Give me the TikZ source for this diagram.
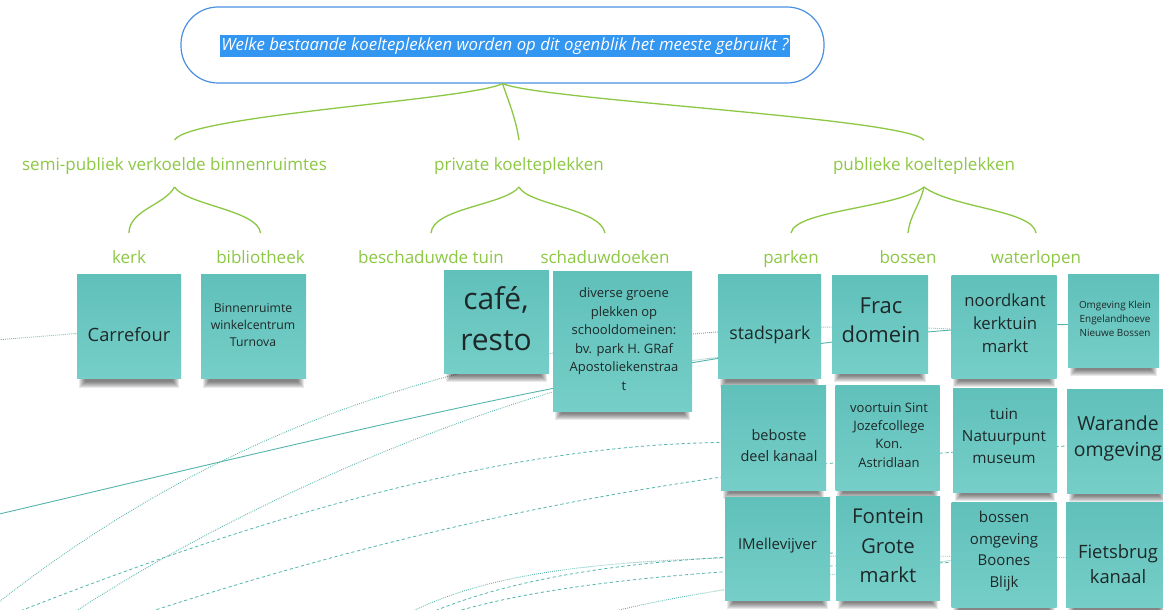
\documentclass[tikz,border=0pt]{standalone}
\usepackage{fontspec}
\setmainfont{Open Sans}
\pgfdeclarelayer{back}
\pgfdeclarelayer{bg}
\pgfsetlayers{back,bg,main}
\definecolor{grn}{RGB}{141,200,68}
\definecolor{tblue}{RGB}{74,144,226}
\definecolor{hl}{RGB}{51,150,240}
\definecolor{notetop}{RGB}{96,192,186}
\definecolor{notebot}{RGB}{118,206,200}
\definecolor{ink}{RGB}{30,40,40}
\definecolor{conn}{RGB}{84,182,172}
\newcommand\nfs[2]{\fontsize{#1}{#2}\selectfont}
\tikzset{
  note/.style={rectangle, inner sep=0pt, top color=notetop, bottom color=notebot},
  ntext/.style={text=ink, align=center, inner sep=0pt},
  lvl/.style={text=grn, inner sep=0pt, outer sep=17pt, text height=13pt,
    text depth=0pt, font=\nfs{17}{20}, anchor=base},
  gline/.style={draw=grn, line width=1.3pt},
  dotc/.style={draw=conn, line width=0.9pt, dash pattern=on 0.8pt off 1.2pt},
  dashc/.style={draw=conn, line width=0.8pt, dash pattern=on 3.2pt off 2.6pt},
  solidc/.style={draw=conn, line width=0.9pt},
  shadowpart/.style={fill=black, opacity=0.085}
}
\begin{document}
\begin{tikzpicture}[x=1pt,y=-1pt]
\useasboundingbox (0,0) rectangle (1163,610);
\begin{pgfonlayer}{back}
\fill[white] (0,0) rectangle (1163,610);
\end{pgfonlayer}

% title
\node[draw=tblue, line width=1.2pt, rounded corners=37pt, minimum width=643pt,
  minimum height=76pt, inner sep=0pt] (root) at (502.5,45) {};
\node[fill=hl, text=white, inner xsep=1pt, inner ysep=3pt, text height=12.5pt,
  text depth=4.3pt, font=\nfs{16.8}{19}\itshape] (q) at (505,46)
  {Welke bestaande koelteplekken worden op dit ogenblik het meeste gebruikt ?};

% level 1
\node[lvl] (semi) at (174.5,170) {semi-publiek verkoelde binnenruimtes};
\node[lvl] (priv) at (519,170) {private koelteplekken};
\node[lvl] (publ) at (924,170) {publieke koelteplekken};
% level 2
\node[lvl] (kerk) at (129,263) {kerk};
\node[lvl] (bib) at (260.5,263) {bibliotheek};
\node[lvl] (tuinb) at (431,263) {beschaduwde tuin};
\node[lvl] (doek) at (605,263) {schaduwdoeken};
\node[lvl] (park) at (791,263) {parken};
\node[lvl] (bos) at (908,263) {bossen};
\node[lvl] (water) at (1036,263) {waterlopen};

% green connectors
\draw[gline] (root.south) .. controls (470,100) and (190,115) .. (semi.north);
\draw[gline] (root.south) .. controls (510,105) and (516,120) .. (priv.north);
\draw[gline] (root.south) .. controls (540,100) and (905,118) .. (publ.north);
\draw[gline] (semi.south) .. controls (165,205) and (129,210) .. (kerk.north);
\draw[gline] (semi.south) .. controls (186,205) and (258,210) .. (bib.north);
\draw[gline] (priv.south) .. controls (505,205) and (433,208) .. (tuinb.north);
\draw[gline] (priv.south) .. controls (528,205) and (600,208) .. (doek.north);
\draw[gline] (publ.south) .. controls (898,208) and (795,210) .. (park.north);
\draw[gline] (publ.south) .. controls (920,205) and (910,215) .. (bos.north);
\draw[gline] (publ.south) .. controls (952,208) and (1033,210) .. (water.north);

% sticky notes
\node[note, minimum width=104pt, minimum height=104pt] (carrefour) at (129,326.5) {};
\node[note, minimum width=105pt, minimum height=104pt] (turnova) at (253.5,326.5) {};
\node[note, minimum width=105pt, minimum height=103pt] (cafe) at (496.5,321.5) {};
\node[note, minimum width=139pt, minimum height=140pt] (diverse) at (622.5,341) {};
\node[note, minimum width=103pt, minimum height=104pt] (stadspark) at (769.5,326.5) {};
\node[note, minimum width=96pt, minimum height=98pt] (frac) at (880,324) {};
\node[note, minimum width=105pt, minimum height=103pt] (noordkant) at (1004,326.5) {};
\node[note, minimum width=91pt, minimum height=93pt] (omgeving) at (1113.5,320.5) {};
\node[note, minimum width=105pt, minimum height=105pt] (beboste) at (773.5,437.5) {};
\node[note, minimum width=104pt, minimum height=105pt] (voortuin) at (887.5,437.5) {};
\node[note, minimum width=104pt, minimum height=104pt] (tuin) at (1005,440) {};
\node[note, minimum width=100pt, minimum height=104pt] (warande) at (1117,441) {};
\node[note, minimum width=105pt, minimum height=103pt] (imelle) at (777.5,548.5) {};
\node[note, minimum width=104pt, minimum height=104pt] (fontein) at (888,548) {};
\node[note, minimum width=105pt, minimum height=105pt] (bossen) at (1004,554.5) {};
\node[note, minimum width=101pt, minimum height=105pt] (fietsbrug) at (1116.5,554.5) {};

% note texts
\node[ntext, font=\nfs{18.3}{25}] (carrefourT) at (129,335) {Carrefour};
\node[ntext, font=\nfs{12.2}{16.8}] (turnovaT) at (253,325) {Binnenruimte\\winkelcentrum\\Turnova};
\node[ntext, font=\nfs{30}{41}] (cafeT) at (496,319) {café,\\resto};
\node[ntext, font=\nfs{13}{18.5}] (diverseT) at (624,339) {diverse groene\\plekken op\\schooldomeinen:\\bv. park H. GRaf\\Apostoliekenstraa\\t};
\node[ntext, font=\nfs{17.7}{24}] (stadsparkT) at (770,335) {stadspark};
\node[ntext, font=\nfs{22}{29}] (fracT) at (881,320) {Frac\\domein};
\node[ntext, font=\nfs{16.7}{23}] (noordkantT) at (1005,323) {noordkant\\kerktuin\\markt};
\node[ntext, font=\nfs{9.9}{14}] (omgevingT) at (1115,319) {Omgeving Klein\\Engelandhoeve\\Nieuwe Bossen};
\node[ntext, font=\nfs{14.5}{21}] (bebosteT) at (779,446) {beboste\\deel kanaal};
\node[ntext, font=\nfs{13}{18.3}] (voortuinT) at (889,435) {voortuin Sint\\Jozefcollege\\Kon.\\Astridlaan};
\node[ntext, font=\nfs{15.3}{22}] (tuinT) at (1004,436) {tuin\\Natuurpunt\\museum};
\node[ntext, font=\nfs{19.4}{26}] (warandeT) at (1118,438) {Warande\\omgeving};
\node[ntext, font=\nfs{15}{20}] (imelleT) at (777.5,546) {IMellevijver};
\node[ntext, font=\nfs{20.4}{29.5}] (fonteinT) at (888,546) {Fontein\\Grote\\markt};
\node[ntext, font=\nfs{15}{21.7}] (bossenT) at (1004,551) {bossen\\omgeving\\Boones\\Blijk};
\node[ntext, font=\nfs{18.4}{25}] (fietsbrugT) at (1118,564) {Fietsbrug\\kanaal};

% free ends of the connectors (outside the picture)
\coordinate (s1) at (-5,340);
\coordinate (s2) at (-5,515);
\coordinate (s3) at (-5,605);
\coordinate (s4) at (70,615);
\coordinate (s5) at (10,615);
\coordinate (s6) at (140,615);
\coordinate (s7) at (405,615);
\coordinate (s8) at (425,615);
\coordinate (s9) at (445,615);
\coordinate (s10) at (600,615);

\begin{pgfonlayer}{bg}
\draw[dotc] (s1) -- ([yshift=-7pt]carrefour.west);
\draw[solidc] (s2) .. controls (400,420) and (750,330) .. ([yshift=-4pt]omgeving.west);
\draw[dotc] (s3) .. controls (230,420) and (520,310) .. ([yshift=-2.5pt]noordkant.west);
\draw[dotc] (s4) .. controls (260,490) and (540,375) .. ([yshift=-31pt]stadspark.west);
\draw[dashc] (s5) .. controls (250,520) and (500,445) .. ([yshift=-5pt]beboste.west);
\draw[dashc] (s6) .. controls (400,530) and (700,460) .. ([yshift=-5pt]warande.west);
\draw[dotc] (s7) .. controls (520,555) and (700,553) .. ([yshift=-3pt]fietsbrug.west);
\draw[dashc] (s8) .. controls (540,565) and (700,556) .. ([yshift=-5pt]fontein.west);
\draw[dashc] (s9) .. controls (560,578) and (760,566) .. ([yshift=-8pt]bossen.west);
\draw[dotc] (s10) .. controls (690,590) and (850,572) .. ([yshift=-6pt]bossen.west);
% soft shadows under the notes
\foreach \n in {carrefour,turnova,cafe,diverse,stadspark,frac,noordkant,omgeving,
  beboste,voortuin,tuin,warande,imelle,fontein,bossen,fietsbrug}{
  \foreach \k in {1,...,7}{
    \fill[shadowpart] ([xshift={(1+\k)*1pt}, yshift=10pt]\n.south west)
      rectangle ([xshift={-(1+\k)*1pt}, yshift={-(10-\k)*1pt}]\n.south east);
  }
}
\end{pgfonlayer}
\end{tikzpicture}
\end{document}
